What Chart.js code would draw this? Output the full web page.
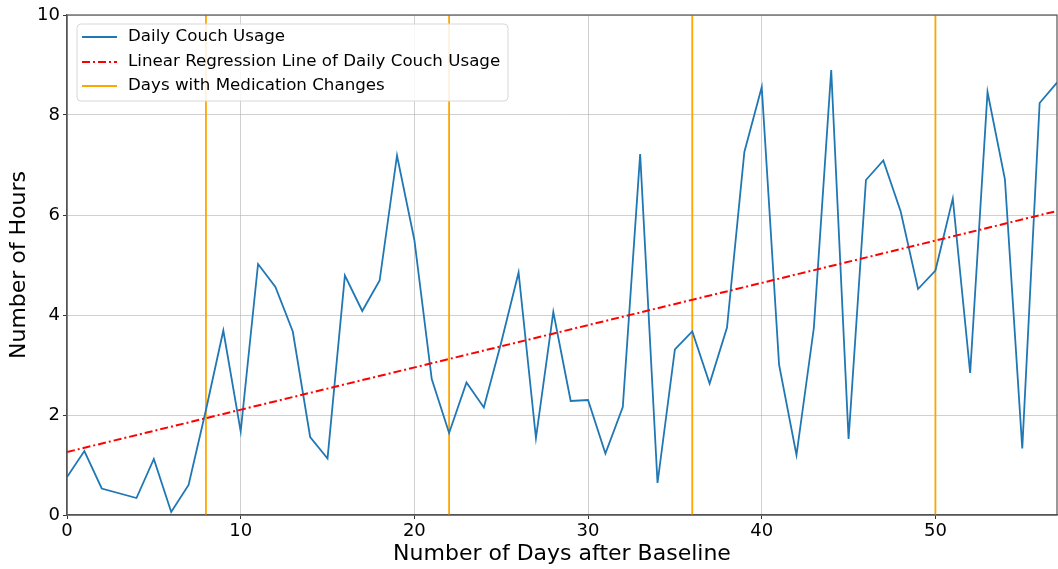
<!DOCTYPE html>
<html>
<head>
<meta charset="utf-8">
<script src="https://cdn.jsdelivr.net/npm/chart.js@4.4.0/dist/chart.umd.min.js"></script>
<style>
  html, body { margin: 0; padding: 0; background: #fff; }
  #wrap { width: 1058px; height: 569px; }
</style>
</head>
<body>
<div id="wrap"><canvas id="myChart" width="1058" height="569"></canvas></div>
<script>
// Daily couch usage (hours), day 3 has no reading
const days = [0, 1, 2, 4, 5, 6, 7, 8, 9, 10, 11, 12, 13, 14, 15, 16, 17, 18, 19, 20,
  21, 22, 23, 24, 25, 26, 27, 28, 29, 30, 31, 32, 33, 34, 35, 36, 37, 38, 39, 40,
  41, 42, 43, 44, 45, 46, 47, 48, 49, 50, 51, 52, 53, 54, 55, 56, 57];
const hours = [0.76, 1.28, 0.53, 0.34, 1.12, 0.06, 0.60, 2.1, 3.69, 1.67, 5.02, 4.56, 3.67, 1.56, 1.13, 4.79, 4.08, 4.69, 7.19, 5.50,
  2.72, 1.64, 2.65, 2.15, 3.45, 4.85, 1.54, 4.06, 2.28, 2.30, 1.23, 2.16, 7.22, 0.64, 3.31, 3.67, 2.63, 3.75, 7.26, 8.56,
  3.00, 1.20, 3.74, 8.90, 1.52, 6.70, 7.09, 6.07, 4.52, 4.89, 6.33, 2.84, 8.46, 6.72, 1.33, 8.24, 8.65];
// regression line end points
const regDays = [0, 57];
const regHours = [1.26, 6.08];
// medication change days
const medDays = [8, 22, 36, 50];
const xTicks = [0, 10, 20, 30, 40, 50];
const yTicks = [0, 2, 4, 6, 8, 10];

const FONT = "'DejaVu Sans', sans-serif";
const blue = '#1f77b4';
const red = '#ff0000';
const orange = '#ffa500';

const datasets = [
  {
    label: 'Daily Couch Usage',
    data: days.map((d, i) => ({ x: d, y: hours[i] })),
    borderColor: blue,
    borderWidth: 1.8,
    pointRadius: 0,
    tension: 0,
    order: 2
  },
  {
    label: 'Linear Regression Line of Daily Couch Usage',
    data: regDays.map((d, i) => ({ x: d, y: regHours[i] })),
    borderColor: red,
    borderWidth: 2,
    borderDash: [8, 3, 2, 3],
    pointRadius: 0,
    order: 1
  }
];
medDays.forEach(d => {
  datasets.push({
    label: 'Days with Medication Changes',
    data: [{ x: d, y: 0 }, { x: d, y: 10 }],
    borderColor: orange,
    borderWidth: 1.8,
    pointRadius: 0,
    order: 3
  });
});

// frame on top/right + legend box like matplotlib
const extras = {
  id: 'extras',
  afterDraw(chart) {
    const { ctx, chartArea: a } = chart;
    ctx.save();
    ctx.strokeStyle = '#555';
    ctx.lineWidth = 1.2;
    ctx.strokeRect(a.left, a.top, a.right - a.left, a.bottom - a.top);

    // legend
    const x0 = 77, y0 = 24, w = 431, h = 77;
    ctx.beginPath();
    ctx.roundRect(x0, y0, w, h, 4);
    ctx.fillStyle = 'rgba(255,255,255,0.85)';
    ctx.fill();
    ctx.strokeStyle = '#d8d8d8';
    ctx.lineWidth = 1;
    ctx.stroke();
    const items = [datasets[0], datasets[1], datasets[2]];
    const rows = [37, 62, 86];
    ctx.font = '16.7px ' + FONT;
    ctx.textBaseline = 'middle';
    items.forEach((ds, i) => {
      ctx.beginPath();
      ctx.strokeStyle = ds.borderColor;
      ctx.lineWidth = ds.borderWidth;
      ctx.setLineDash(ds.borderDash || []);
      ctx.moveTo(82, rows[i]);
      ctx.lineTo(117, rows[i]);
      ctx.stroke();
      ctx.setLineDash([]);
      ctx.fillStyle = '#000';
      ctx.fillText(ds.label, 128, rows[i]);
    });
    ctx.restore();
  }
};

new Chart(document.getElementById('myChart'), {
  type: 'line',
  data: { datasets: datasets },
  options: {
    responsive: false,
    animation: false,
    layout: { padding: { top: 15, right: 1, left: 0, bottom: 0 } },
    plugins: { legend: { display: false }, tooltip: { enabled: false } },
    scales: {
      x: {
        type: 'linear',
        min: 0,
        max: 57,
        afterBuildTicks: s => { s.ticks = xTicks.map(v => ({ value: v })); },
        afterFit: s => { s.height = 54; },
        ticks: { color: '#000', font: { family: FONT, size: 18 }, padding: 2, maxRotation: 0 },
        grid: { color: 'rgba(176,176,176,0.6)', lineWidth: 1, tickLength: 4, tickColor: '#333' },
        border: { color: '#555', width: 1.2 },
        title: { display: true, text: 'Number of Days after Baseline', color: '#000', font: { family: FONT, size: 22 }, padding: { top: 0, bottom: 2 } }
      },
      y: {
        min: 0,
        max: 10,
        afterBuildTicks: s => { s.ticks = yTicks.map(v => ({ value: v })); },
        afterFit: s => { s.width = 67; },
        ticks: { color: '#000', font: { family: FONT, size: 18 }, padding: 3 },
        grid: { color: 'rgba(176,176,176,0.6)', lineWidth: 1, tickLength: 4, tickColor: '#333' },
        border: { color: '#555', width: 1.2 },
        title: { display: true, text: 'Number of Hours', color: '#000', font: { family: FONT, size: 22 }, padding: { top: 6, bottom: 0 } }
      }
    }
  },
  plugins: [extras]
});
</script>
</body>
</html>
